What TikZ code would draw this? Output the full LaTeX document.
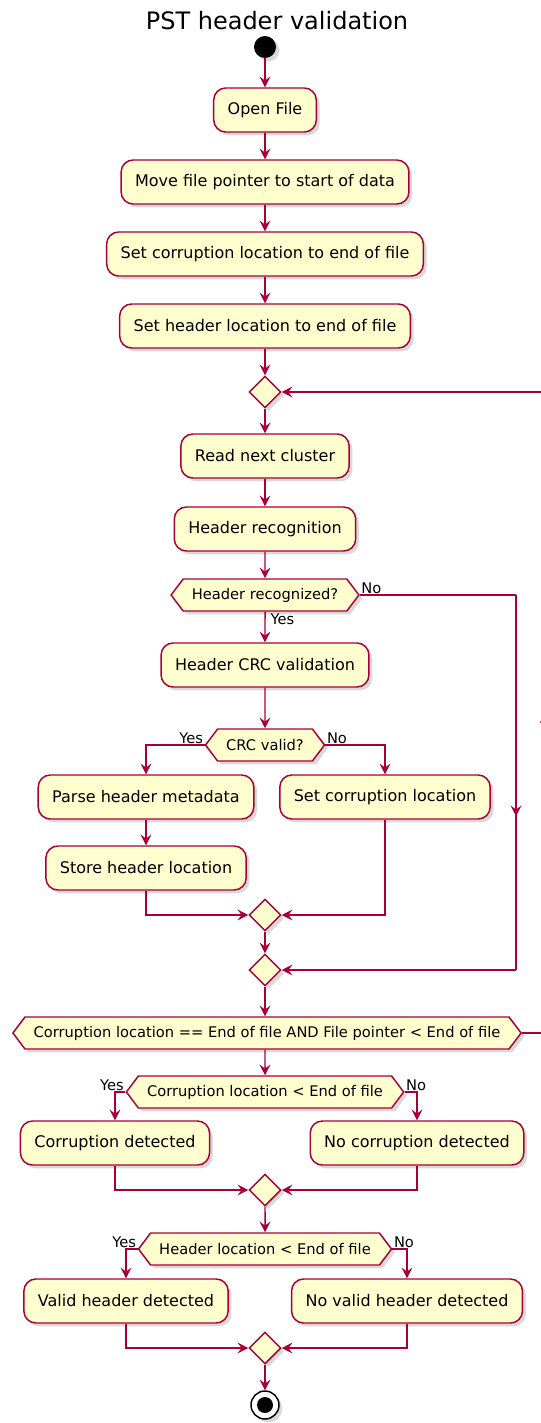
\documentclass[tikz,border=0pt]{standalone}
\usepackage{fontspec}
\setmainfont{DejaVu Sans}
\usetikzlibrary{positioning, arrows.meta, shapes.geometric, shapes.symbols, shadows, decorations.markings}
\definecolor{lineColor}{RGB}{168,0,54}
\definecolor{boxColor}{RGB}{254,254,206}
\tikzstyle{chart} = [x = 0.75pt, y = -0.75pt]
\tikzstyle{shadowStyle} = [drop shadow={shadow xshift=2.5pt, shadow yshift=-2.5pt, opacity=0.3}]
\tikzstyle{actionStyle} = [draw=lineColor, fill=boxColor, rounded corners=9pt, line width=1.1pt, minimum height=33pt, inner xsep=10.5pt, font=\fontsize{12}{14}\selectfont, shadowStyle]
\tikzstyle{testStyle} = [signal, signal to=west and east, signal pointer angle=106, draw=lineColor, fill=boxColor, line width=1.1pt, minimum height=24pt, inner xsep=6.5pt, inner ysep=0pt, font=\fontsize{11}{13}\selectfont, shadowStyle]
\tikzstyle{mergeStyle} = [diamond, draw=lineColor, fill=boxColor, line width=1.1pt, minimum width=24pt, minimum height=24pt, inner sep=0pt, shadowStyle]
\tikzstyle{flowLine} = [color=lineColor, line width=1.1pt]
\tikzstyle{flowArrow} = [flowLine, -{Stealth[length=8pt, width=8pt, inset=3pt]}]
\tikzstyle{branchText} = [font=\fontsize{11}{13}\selectfont, inner sep=1pt]
\tikzset{midArrow/.style = {flowLine, postaction={decorate}, decoration={markings, mark=at position #1 with {\arrow{Stealth[length=8pt, width=8pt, inset=3pt]}}}}}
\newcommand{\actionNode}[4]{\node [actionStyle] (#1) at (#2, #3) {#4};}
\newcommand{\testNode}[4]{\node [testStyle] (#1) at (#2, #3) {#4};}
\newcommand{\mergeNode}[3]{\node [mergeStyle] (#1) at (#2, #3) {};}
\newcommand{\splitArrows}[3]{
  \draw [flowArrow] (#1.west) -| (#2.north);
  \draw [flowArrow] (#1.east) -| (#3.north);
}
\newcommand{\joinArrows}[3]{
  \draw [flowArrow] (#1.south) |- (#3.west);
  \draw [flowArrow] (#2.south) |- (#3.east);
}

\begin{document}
\begin{tikzpicture}[chart]
  \useasboundingbox (0, 0) rectangle (541, 1423);

  \node [font=\fontsize{18}{21}\selectfont] (title) at (277, 21) {PST header validation};
  \node [circle, fill=black, minimum size=16.5pt, inner sep=0pt, shadowStyle] (start) at (265, 47) {};

  % set up
  \actionNode{openFile}{265}{110}{Open File}
  \actionNode{movePointer}{265}{182}{Move file pointer to start of data}
  \actionNode{setCorruption}{265}{254}{Set corruption location to end of file}
  \actionNode{setHeader}{265}{326}{Set header location to end of file}
  \draw [flowArrow] (start) -- (openFile);
  \draw [flowArrow] (openFile) -- (movePointer);
  \draw [flowArrow] (movePointer) -- (setCorruption);
  \draw [flowArrow] (setCorruption) -- (setHeader);

  % loop body
  \mergeNode{mergeLoop}{265}{392}
  \actionNode{readCluster}{265}{456}{Read next cluster}
  \actionNode{recognition}{265}{529}{Header recognition}
  \testNode{recognized}{265}{595}{Header recognized?}
  \actionNode{crcValidation}{265}{665}{Header CRC validation}
  \testNode{crcValid}{265}{745}{CRC valid?}
  \actionNode{parseMeta}{146}{797}{Parse header metadata}
  \actionNode{storeHeader}{146}{868}{Store header location}
  \actionNode{setCorrLoc}{385}{797}{Set corruption location}
  \mergeNode{mergeCrc}{265}{915}
  \mergeNode{mergeRecog}{265}{970}
  \draw [flowArrow] (setHeader) -- (mergeLoop);
  \draw [flowArrow] (mergeLoop) -- (readCluster);
  \draw [flowArrow] (readCluster) -- (recognition);
  \draw [flowArrow] (recognition) -- (recognized);
  \draw [flowArrow] (recognized) -- (crcValidation);
  \node [branchText, below right=0pt and 3pt of recognized.south] (recYes) {Yes};
  \node [branchText, above right=0pt and 0pt of recognized.east] (recNo) {No};
  \coordinate (noTop) at (516, 595);
  \coordinate (noBottom) at (516, 970);
  \draw [flowLine] (recognized.east) -- (noTop);
  \draw [midArrow=0.59] (noTop) -- (noBottom);
  \draw [flowArrow] (noBottom) -- (mergeRecog.east);
  \draw [flowArrow] (crcValidation) -- (crcValid);
  \splitArrows{crcValid}{parseMeta}{setCorrLoc}
  \node [branchText, above left=0pt and 0pt of crcValid.west] (crcYes) {Yes};
  \node [branchText, above right=0pt and 0pt of crcValid.east] (crcNo) {No};
  \draw [flowArrow] (parseMeta) -- (storeHeader);
  \joinArrows{storeHeader}{setCorrLoc}{mergeCrc}
  \draw [flowArrow] (mergeCrc) -- (mergeRecog);

  % repeat while
  \testNode{repeatTest}{267}{1033}{Corruption location == End of file AND File pointer < End of file}
  \draw [flowArrow] (mergeRecog) -- (mergeRecog |- repeatTest.north);
  \coordinate (loopLow) at (545, 1033);
  \coordinate (loopHigh) at (545, 392);
  \draw [flowLine] (repeatTest.east) -- (loopLow);
  \draw [midArrow=0.5] (loopLow) -- (loopHigh);
  \draw [flowArrow] (loopHigh) -- (mergeLoop.east);

  % results
  \testNode{corrTest}{265}{1092}{Corruption location < End of file}
  \actionNode{corrDetected}{115}{1143}{Corruption detected}
  \actionNode{noCorr}{417}{1143}{No corruption detected}
  \mergeNode{mergeCorr}{265}{1190}
  \draw [flowArrow] (repeatTest.south -| corrTest) -- (corrTest);
  \splitArrows{corrTest}{corrDetected}{noCorr}
  \node [branchText, above left=0pt and 0pt of corrTest.west] (corrYes) {Yes};
  \node [branchText, above right=0pt and 0pt of corrTest.east] (corrNo) {No};
  \joinArrows{corrDetected}{noCorr}{mergeCorr}

  \testNode{headerTest}{265}{1249}{Header location < End of file}
  \actionNode{validHeader}{126}{1301}{Valid header detected}
  \actionNode{noValid}{407}{1301}{No valid header detected}
  \mergeNode{mergeHeader}{265}{1348}
  \draw [flowArrow] (mergeCorr) -- (headerTest);
  \splitArrows{headerTest}{validHeader}{noValid}
  \node [branchText, above left=0pt and 0pt of headerTest.west] (hdrYes) {Yes};
  \node [branchText, above right=0pt and 0pt of headerTest.east] (hdrNo) {No};
  \joinArrows{validHeader}{noValid}{mergeHeader}

  \node [circle, draw=black, fill=white, line width=1.1pt, minimum size=21pt, inner sep=0pt, shadowStyle] (stop) at (265, 1405) {};
  \fill (stop.center) circle (6pt);
  \draw [flowArrow] (mergeHeader) -- (stop);
\end{tikzpicture}
\end{document}
